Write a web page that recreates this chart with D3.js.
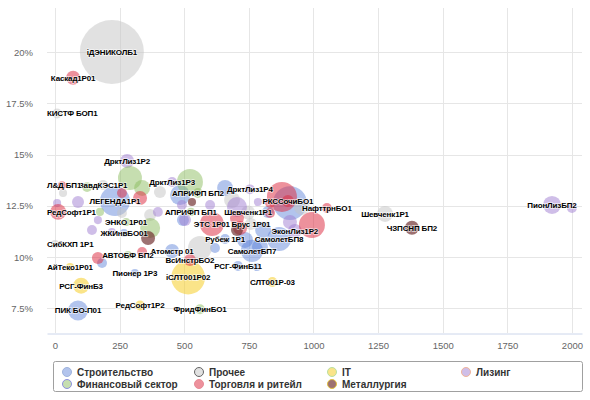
<!DOCTYPE html>
<html>
<head>
<meta charset="utf-8">
<script src="https://cdn.jsdelivr.net/npm/d3@7"></script>
<style>
html,body{margin:0;padding:0;background:#fff;}
svg{display:block;}
</style>
</head>
<body>
<svg id="chart" width="590" height="400"></svg>
<script>
// ---- data ----
const seriesNames = ["Строительство", "Прочее", "IT", "Лизинг", "Финансовый сектор", "Торговля и ритейл", "Металлургия"];
const xTicks = [0, 250, 500, 750, 1000, 1250, 1500, 1750, 2000];
const yTicks = [7.5, 10, 12.5, 15, 17.5, 20];
const yTickLabels = ["7.5%", "10%", "12.5%", "15%", "17.5%", "20%"];

// [x, y(%), size, label]
const construction = [
  [232, 12.73, 2.2, "ЛЕГЕНДА1Р1"], [89, 7.39, 0.98, "ПИК БО-П01"], [867, 10.88, 1.4, "СамолетБП8"],
  [762, 10.3, 1.2, "СамолетБП7"], [708, 9.56, 0.24, "РСГ-ФинБ11"], [309, 9.22, 0.16, "Пионер 1Р3"],
  [453, 10.29, 0.48, "Атомстр 01"], [658, 13.37, 0.62, ""], [909, 12.63, 2.8, ""], [735, 10.83, 0.62, ""],
  [619, 10.44, 0.24, ""], [182, 9.71, 0.24, ""], [484, 13.02, 0.98, ""], [805, 11.32, 0.62, ""],
  [793, 10.49, 0.62, ""], [495, 11.8, 0.35, ""], [824, 12.2, 0.35, ""], [781, 9.51, 0.16, ""],
  [658, 10.88, 0.24, "Рубеж 1Р1"], [267, 11.17, 0.16, "ЖКИнвБО01"]
];
const other = [
  [220, 20.0, 10, "іДЭНИКОЛБ1"], [8, 17.0, 0.24, "КИСТФ БОП1"], [1277, 12.1, 0.62, "Шевченк1Р1"],
  [406, 13.17, 0.35, ""], [31, 13.12, 0.16, ""], [368, 12.05, 0.35, ""], [685, 12.78, 0.62, ""],
  [955, 12.44, 0.62, ""], [561, 10.44, 1.4, ""], [259, 12.15, 0.24, ""], [747, 12.17, 0.48, "Шевченк1Р1"],
  [186, 13.51, 0.24, "ЗавдКЭС1Р1"], [0, 10.63, 0.16, "СибКХП 1Р1"], [758, 11.61, 0.35, "Брус 1Р01"]
];
const itSector = [
  [515, 9.0, 2.8, "іСЛТ001Р02"], [101, 8.6, 0.62, "РСГ-ФинБ3"], [841, 8.78, 0.24, "СЛТ001Р-03"],
  [58, 9.51, 0.16, "АйТеко1Р01"], [329, 7.63, 0.24, "РедСофт1Р2"]
];
const leasing = [
  [279, 14.68, 0.48, "ДрктЛиз1Р2"], [453, 13.66, 0.24, "ДрктЛиз1Р3"], [754, 13.3, 0.24, "ДрктЛиз1Р4"],
  [928, 11.27, 0.48, "ЭконЛиз1Р2"], [1923, 12.54, 0.8, "ПионЛизБП2"], [2000, 12.39, 0.24, ""],
  [89, 12.68, 0.35, ""], [8, 12.63, 0.16, ""], [166, 11.8, 0.16, ""], [143, 11.32, 0.24, ""],
  [398, 12.2, 0.24, ""], [600, 12.54, 0.24, ""], [704, 12.44, 0.98, ""], [785, 12.68, 0.16, ""],
  [491, 12.54, 0.24, ""], [220, 11.22, 0.16, ""], [503, 11.8, 0.35, ""], [909, 11.71, 0.48, ""]
];
const finance = [
  [561, 7.45, 0.24, "ФридФинБО1"], [290, 13.85, 1.4, ""], [337, 13.37, 0.62, ""], [124, 13.41, 0.24, ""],
  [174, 12.2, 0.16, ""], [368, 11.41, 0.98, ""], [522, 13.66, 1.65, ""], [275, 11.71, 0.16, "ЭНКО 1Р01"],
  [553, 13.12, 0.24, "АПРИФП БП2"], [526, 12.2, 0.16, "АПРИФП БП1"], [282, 10.1, 0.16, "АВТОБФ БП2"]
];
const retail = [
  [70, 18.75, 0.48, "Каскад1Р01"], [27, 13.5, 0.16, "Л&Д БП1"], [12, 12.2, 0.62, "РедСофт1Р1"],
  [329, 12.88, 0.48, ""], [259, 13.12, 0.24, ""], [166, 9.95, 0.35, ""], [337, 10.24, 0.24, ""],
  [607, 11.61, 1.4, "ЭТС 1Р01"], [704, 11.9, 0.48, ""], [716, 11.41, 0.48, ""], [878, 12.93, 2.2, ""],
  [901, 12.73, 0.35, "РКССочиБО1"], [832, 12.63, 0.24, ""], [832, 12.15, 0.24, ""], [994, 11.56, 1.65, ""],
  [1052, 12.39, 0.24, "НафттрнБО1"], [522, 9.85, 0.35, "ВсИнстрБО2"]
];
const metals = [
  [1381, 11.43, 0.48, "ЧЗПСНП БП2"], [530, 12.68, 0.16, ""], [360, 10.93, 0.48, ""], [704, 11.32, 0.35, ""]
];
const seriesData = [construction, other, itSector, leasing, finance, retail, metals];

// ---- styles ----
const fillColors = ["rgba(85,125,215,0.45)", "rgba(195,195,195,0.5)", "rgba(245,205,40,0.55)",
  "rgba(160,125,210,0.5)", "rgba(135,185,90,0.48)", "rgba(220,45,65,0.52)", "rgba(110,45,45,0.68)"];
const legendStroke = ["#9fb3dc", "#666", "#b9e0a0", "#f0b49a", "#8d8fe0", "#e88a96", "#e0c040"];

const W = 590, H = 400;
const plot = {left: 47, right: 582, top: 8, bottom: 333};
const svg = d3.select("#chart");

const x = d3.scaleLinear().domain([-31, 2039]).range([plot.left, plot.right]);
const y = d3.scaleLinear().domain([6.29, 22.15]).range([plot.bottom, plot.top]);
const r = d3.scaleSqrt().domain([0, 10]).range([0, 32]);

// grid
const grid = svg.append("g");
grid.selectAll("line.h").data(yTicks).enter().append("line")
  .attr("x1", plot.left).attr("x2", plot.right)
  .attr("y1", d => Math.round(y(d)) + 0.5).attr("y2", d => Math.round(y(d)) + 0.5)
  .attr("stroke", "#e6e6e6").attr("stroke-width", 1);
grid.selectAll("line.v").data(xTicks).enter().append("line")
  .attr("y1", plot.top).attr("y2", plot.bottom)
  .attr("x1", d => Math.round(x(d)) + 0.5).attr("x2", d => Math.round(x(d)) + 0.5)
  .attr("stroke", "#e6e6e6").attr("stroke-width", 1);

// axes
const xAxis = d3.axisBottom(x).tickValues(xTicks).tickSize(0).tickPadding(9).tickFormat(d3.format("d"));
const gx = svg.append("g").attr("transform", `translate(0,${plot.bottom + 0.5})`).call(xAxis);
gx.select(".domain").attr("stroke", "#ccd6eb");
gx.selectAll("text").attr("fill", "#666").style("font-family", "'Liberation Sans', Arial, sans-serif").style("font-size", "9.5px");

const yAxis = d3.axisLeft(y).tickValues(yTicks).tickSize(0).tickPadding(14).tickFormat((d, i) => yTickLabels[i]);
const gy = svg.append("g").attr("transform", `translate(${plot.left},0)`).call(yAxis);
gy.select(".domain").remove();
gy.selectAll("text").attr("fill", "#666").style("font-family", "'Liberation Sans', Arial, sans-serif").style("font-size", "9.5px");

// bubbles
const bubbles = svg.append("g");
seriesData.forEach((data, si) => {
  bubbles.append("g").selectAll("circle").data(data).enter().append("circle")
    .attr("cx", d => x(d[0])).attr("cy", d => y(d[1])).attr("r", d => r(d[2]))
    .attr("fill", fillColors[si]).attr("stroke", "none");
});

// labels
const labels = svg.append("g");
seriesData.forEach((data) => {
  data.filter(d => d[3]).forEach(d => {
    const t = labels.append("text")
      .attr("x", x(d[0])).attr("y", y(d[1]))
      .attr("text-anchor", "middle").attr("dy", "0.36em")
      .style("font-family", "'Liberation Sans', Arial, sans-serif")
      .style("font-size", "8px").style("font-weight", "bold")
      .style("letter-spacing", "-0.15px")
      .attr("fill", "#000")
      .attr("stroke", "rgba(255,255,255,0.7)").attr("stroke-width", 1.4)
      .attr("paint-order", "stroke")
      .text(d[3]);
    const w = t.node().getComputedTextLength();
    let cx = x(d[0]);
    if (cx - w / 2 < plot.left) cx = plot.left + w / 2;
    if (cx + w / 2 > plot.right) cx = plot.right - w / 2;
    t.attr("x", cx);
  });
});

// legend
const lg = svg.append("g");
lg.append("rect").attr("x", 53.5).attr("y", 361.5).attr("width", 529).attr("height", 30)
  .attr("rx", 2).attr("fill", "#fff").attr("stroke", "#a0a0a0");
const colX = [67, 199, 332, 466];
const rowY = [372, 384];
seriesNames.forEach((name, i) => {
  const cx = colX[i % 4], cy = rowY[Math.floor(i / 4)];
  lg.append("circle").attr("cx", cx).attr("cy", cy).attr("r", 4.5)
    .attr("fill", fillColors[i]).attr("stroke", legendStroke[i]).attr("stroke-width", 1);
  lg.append("text").attr("x", cx + 10).attr("y", cy).attr("dy", "0.35em")
    .style("font-family", "'Liberation Sans', Arial, sans-serif")
    .style("font-size", "10px").style("font-weight", "bold").attr("fill", "#333")
    .text(name);
});
</script>
</body>
</html>
